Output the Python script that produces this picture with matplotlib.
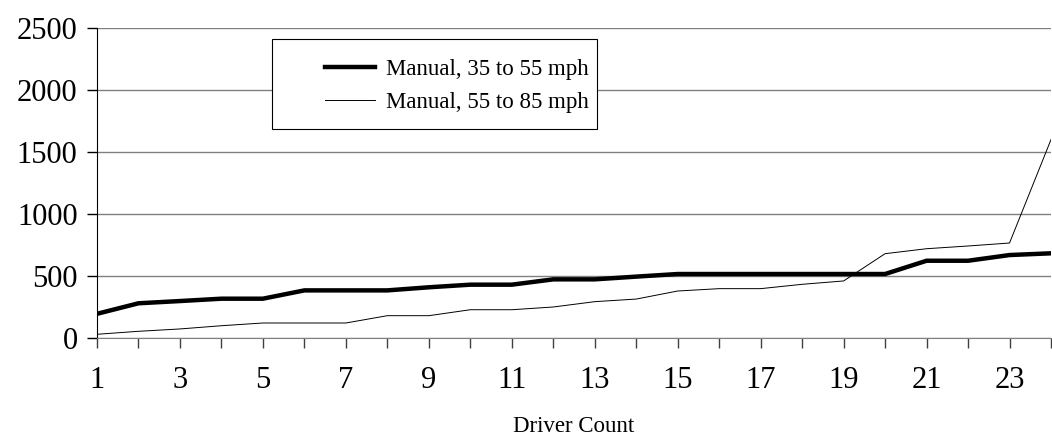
import numpy as np
import matplotlib
matplotlib.use('Agg')
import matplotlib.pyplot as plt
from matplotlib.patches import Rectangle

# Driver count (x) and values for the two speed ranges
drivers = list(range(1, 25))
manual_35_55 = [195, 280, 298, 317, 317, 384, 384, 384, 409, 430, 430, 473,
                473, 495, 516, 516, 516, 516, 516, 516, 623, 623, 669, 683]
manual_55_85 = [30, 54, 73, 99, 121, 121, 121, 180, 180, 228, 228, 250,
                293, 314, 379, 398, 398, 433, 460, 680, 720, 742, 766, 1600]
labels = ['Manual, 35 to 55 mph', 'Manual, 55 to 85 mph']

plt.rcParams['font.family'] = ['Liberation Serif', 'DejaVu Serif']

fig = plt.figure(figsize=(10.52, 4.44), dpi=100)
W, H = 1052, 444
ax = fig.add_axes([97 / W, (H - 338) / H, (1051 - 97) / W, 310 / H])

ax.plot(drivers, manual_35_55, color='black', lw=3.2, label=labels[0], solid_joinstyle='miter')
ax.plot(drivers, manual_55_85, color='black', lw=0.7, label=labels[1])

ax.set_xlim(1, 24)
ax.set_ylim(0, 2500)
ax.set_yticks(np.arange(0, 2501, 500))
ax.set_xticks(np.arange(1, 24, 2))
ax.set_xticks(np.arange(1, 25), minor=True)

ax.grid(axis='y', color='#808080', lw=1.0)
ax.set_axisbelow(True)
for s in ['top', 'right']:
    ax.spines[s].set_visible(False)
ax.spines['bottom'].set_color('#808080')
ax.spines['left'].set_color('black')

ax.tick_params(axis='y', direction='out', length=7, width=1, labelsize=22, pad=7)
ax.tick_params(axis='x', which='both', direction='out', length=7.5, width=1,
               color='#404040', labelsize=22, pad=13)

ax.set_xlabel('Driver Count', fontsize=16.5, labelpad=15)

# legend box (frame drawn separately so the handles can sit further in)
frame = Rectangle((0.1834, 0.674), 0.341, 0.290, transform=ax.transAxes,
                  facecolor='white', edgecolor='black', lw=0.8, zorder=3)
ax.add_patch(frame)
leg = ax.legend(loc='upper left', bbox_to_anchor=(0.239, 0.9), borderaxespad=0,
                frameon=False, fontsize=16.5, handlelength=2.2, borderpad=0,
                labelspacing=0.5, handletextpad=0.45)
leg.set_zorder(4)

fig.savefig('out.png', dpi=100)
